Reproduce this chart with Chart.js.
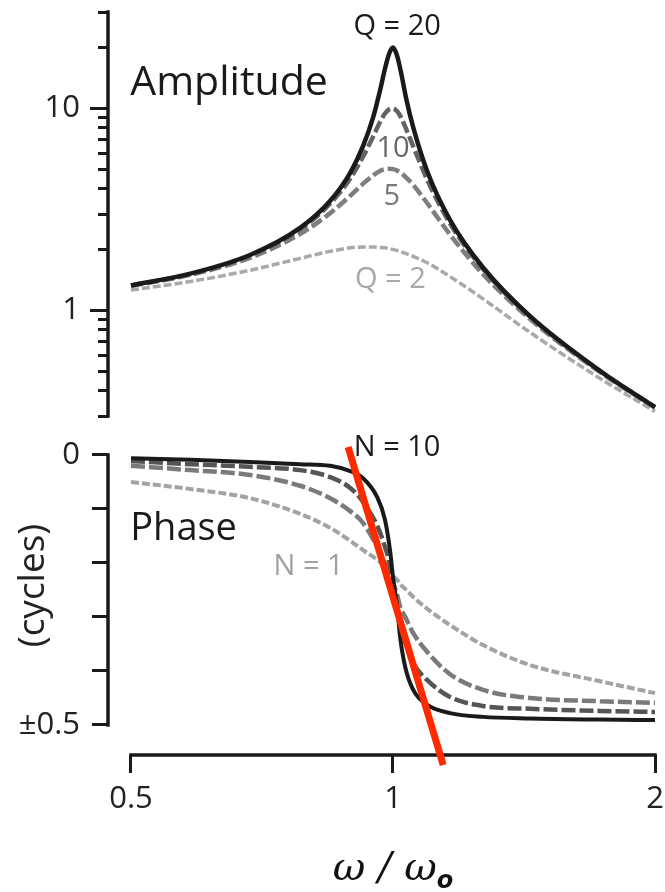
<!DOCTYPE html>
<html lang="en">
<head>
<meta charset="UTF-8">
<title>Amplitude and phase</title>
<script src="https://cdn.jsdelivr.net/npm/chart.js"></script>
<style>
  html, body { margin: 0; padding: 0; background: #fff; }
  #wrap { width: 665px; height: 892px; }
</style>
</head>
<body>
<div id="wrap"><canvas id="chart" width="665" height="892"></canvas></div>
<script>
// x = omega / omega_o
const ampX = [0.5, 0.585, 0.685, 0.782, 0.847, 0.893, 0.924, 0.949, 0.966, 0.979, 0.99, 1.0, 1.011, 1.022, 1.035, 1.055, 1.095, 1.163, 1.269, 1.437, 1.73, 2.0];
const ampQ20 = [1.33, 1.52, 1.88, 2.56, 3.49, 4.80, 6.52, 9.04, 12.2, 15.7, 18.7, 20.0, 18.2, 14.9, 11.3, 8.05, 4.87, 2.80, 1.63, 0.936, 0.501, 0.332];
const ampQ10 = [1.33, 1.51, 1.87, 2.52, 3.38, 4.50, 5.78, 7.26, 8.54, 9.43, 9.90, 10.0, 9.67, 8.99, 7.93, 6.49, 4.42, 2.69, 1.60, 0.930, 0.500, 0.332];
const ampQ5 = [1.32, 1.50, 1.82, 2.39, 3.03, 3.69, 4.24, 4.66, 4.90, 5.00, 5.03, 5.00, 4.92, 4.78, 4.56, 4.18, 3.39, 2.37, 1.51, 0.906, 0.494, 0.330];
const ampQ2 = [1.26, 1.39, 1.58, 1.81, 1.96, 2.04, 2.06, 2.06, 2.05, 2.04, 2.02, 2.00, 1.98, 1.95, 1.91, 1.85, 1.72, 1.47, 1.14, 0.778, 0.460, 0.316];

// phase in cycles
const phaseX = [0.5, 0.585, 0.685, 0.782, 0.847, 0.893, 0.924, 0.959, 0.979, 0.993, 1.0, 1.011, 1.019, 1.033, 1.055, 1.095, 1.163, 1.269, 1.437, 1.73, 2.0];
const phaseN10 = [-0.006, -0.009, -0.013, -0.017, -0.020, -0.030, -0.043, -0.078, -0.120, -0.181, -0.226, -0.281, -0.337, -0.393, -0.435, -0.463, -0.478, -0.485, -0.488, -0.490, -0.491];
const phaseDark = [-0.011, -0.017, -0.022, -0.028, -0.041, -0.061, -0.087, -0.131, -0.170, -0.207, -0.244, -0.278, -0.311, -0.346, -0.385, -0.417, -0.448, -0.465, -0.470, -0.474, -0.476];
const phaseMid = [-0.020, -0.028, -0.037, -0.057, -0.080, -0.104, -0.126, -0.170, -0.200, -0.226, -0.237, -0.259, -0.281, -0.300, -0.330, -0.365, -0.406, -0.435, -0.450, -0.456, -0.459];
const phaseN1 = [-0.050, -0.063, -0.080, -0.109, -0.135, -0.159, -0.176, -0.194, -0.207, -0.217, -0.224, -0.231, -0.239, -0.248, -0.263, -0.285, -0.315, -0.352, -0.389, -0.419, -0.441];

// red slope line
const slopeX = [0.888, 1.142];
const slopeY = [0.015, -0.574];

// ticks
const xTicks = [0.5, 1, 2];
const ampTicks = [0.3, 0.4, 0.5, 0.6, 0.7, 0.8, 0.9, 1, 2, 3, 4, 5, 6, 7, 8, 9, 10, 20, 30];
const ampLabels = {1: '1', 10: '10'};
const phaseTicks = [0, -0.1, -0.2, -0.3, -0.4, -0.5];
const phaseLabels = {'0': '0', '-0.5': '\u00b10.5'};

// text written on the plot
const notes = [
  {text: 'Amplitude', x: 0.499, y: 11.6, axis: 'yA', size: 41, color: '#1a1a1a', align: 'left'},
  {text: 'Q = 20', x: 1.011, y: 23.0, axis: 'yA', size: 29, color: '#1a1a1a', align: 'center'},
  {text: '10', x: 1.0, y: 5.72, axis: 'yA', size: 29, color: '#666666', align: 'center'},
  {text: '5', x: 0.997, y: 3.31, axis: 'yA', size: 29, color: '#7a7a7a', align: 'center'},
  {text: 'Q = 2', x: 0.993, y: 1.285, axis: 'yA', size: 29, color: '#a8a8a8', align: 'center'},
  {text: 'Phase', x: 0.499, y: -0.157, axis: 'yP', size: 38, color: '#1a1a1a', align: 'left'},
  {text: 'N = 10', x: 1.011, y: -0.002, axis: 'yP', size: 29, color: '#1a1a1a', align: 'center'},
  {text: 'N = 1', x: 0.800, y: -0.222, axis: 'yP', size: 29, color: '#a0a0a0', align: 'center'}
];

const FONT = "'Open Sans', 'DejaVu Sans', sans-serif";
Chart.defaults.font.family = FONT;
Chart.defaults.color = '#222';

const pts = (xs, ys) => xs.map((x, i) => ({x: x, y: ys[i]}));

function curve(data, axis, color, width, dash) {
  return {
    data: data,
    yAxisID: axis,
    borderColor: color,
    borderWidth: width,
    borderDash: dash,
    borderCapStyle: 'butt',
    pointRadius: 0,
    cubicInterpolationMode: 'monotone',
    clip: false
  };
}

// no label overhang padding, so the panels sit where the picture has them
function fixSize(prop, size) {
  return s => {
    s[prop] = size;
    s.paddingTop = 0; s.paddingBottom = 0; s.paddingLeft = 0; s.paddingRight = 0;
  };
}

const frame = {
  id: 'frame',
  beforeDatasetsDraw(chart) {
    const {ctx, chartArea} = chart;
    const {x, yA, yP} = chart.scales;
    const h = 1.75;
    ctx.save();
    ctx.strokeStyle = '#1a1a1a';
    ctx.lineWidth = 3.5;
    ctx.beginPath();
    ctx.moveTo(chartArea.left, yA.getPixelForValue(ampTicks[ampTicks.length - 1]) - h);
    ctx.lineTo(chartArea.left, yA.getPixelForValue(ampTicks[0]) + h);
    ctx.moveTo(chartArea.left, yP.getPixelForValue(phaseTicks[0]) - h);
    ctx.lineTo(chartArea.left, yP.getPixelForValue(phaseTicks[phaseTicks.length - 1]) + h);
    ctx.moveTo(x.getPixelForValue(xTicks[0]) - h, chartArea.bottom);
    ctx.lineTo(x.getPixelForValue(xTicks[xTicks.length - 1]) + h, chartArea.bottom);
    ctx.stroke();
    ctx.restore();
  },
  afterDraw(chart) {
    const {ctx} = chart;
    const x = chart.scales.x;
    ctx.save();
    ctx.textBaseline = 'alphabetic';
    notes.forEach(n => {
      ctx.font = n.size + 'px ' + FONT;
      ctx.fillStyle = n.color;
      ctx.textAlign = n.align;
      ctx.fillText(n.text, x.getPixelForValue(n.x), chart.scales[n.axis].getPixelForValue(n.y));
    });
    // x axis title: omega / omega_o
    const main = '\u03c9 / \u03c9';
    const mainFont = "italic 40px 'DejaVu Serif'";
    const subFont = "italic bold 24px 'DejaVu Sans'";
    ctx.font = mainFont;
    const w1 = ctx.measureText(main).width;
    ctx.font = subFont;
    const w2 = ctx.measureText('o').width;
    const cx = x.getPixelForValue(1);
    const left = cx - (w1 + w2) / 2;
    const base = chart.height - 12;
    ctx.textAlign = 'left';
    ctx.fillStyle = '#111';
    ctx.font = mainFont;
    ctx.fillText(main, left, base);
    ctx.font = subFont;
    ctx.fillText('o', left + w1, base + 8);
    ctx.restore();
  }
};

new Chart(document.getElementById('chart'), {
  type: 'line',
  data: {
    datasets: [
      curve(pts(slopeX, slopeY), 'yP', '#ff2a00', 7, []),
      curve(pts(ampX, ampQ20), 'yA', '#1a1a1a', 4.5, []),
      curve(pts(ampX, ampQ10), 'yA', '#636363', 4.5, [12, 4]),
      curve(pts(ampX, ampQ5), 'yA', '#7e7e7e', 4.5, [12, 4]),
      curve(pts(ampX, ampQ2), 'yA', '#a9a9a9', 3.5, [8, 3]),
      curve(pts(phaseX, phaseN10), 'yP', '#1a1a1a', 4, []),
      curve(pts(phaseX, phaseDark), 'yP', '#555555', 4.5, [14, 4]),
      curve(pts(phaseX, phaseMid), 'yP', '#7a7a7a', 4.5, [14, 4]),
      curve(pts(phaseX, phaseN1), 'yP', '#a3a3a3', 4, [8, 3])
    ]
  },
  options: {
    responsive: false,
    animation: false,
    devicePixelRatio: 1,
    layout: {padding: {top: 12, right: 10, bottom: 0, left: 0}},
    plugins: {legend: {display: false}, tooltip: {enabled: false}},
    scales: {
      x: {
        type: 'logarithmic',
        min: 0.4705,
        max: 2,
        afterBuildTicks: s => { s.ticks = xTicks.map(v => ({value: v})); },
        afterFit: fixSize('height', 137),
        border: {display: false},
        grid: {drawOnChartArea: false, tickLength: 18, tickWidth: 3, tickColor: '#1a1a1a'},
        ticks: {
          autoSkip: false, maxRotation: 0, padding: 8,
          font: {size: 31}, color: '#222',
          callback: v => String(v)
        }
      },
      yA: {
        type: 'logarithmic',
        position: 'left',
        stack: 'panels',
        stackWeight: 404,
        weight: 2,
        min: 0.3,
        max: 30,
        afterBuildTicks: s => { s.ticks = ampTicks.map(v => ({value: v})); },
        afterFit: fixSize('width', 108),
        border: {display: false},
        grid: {
          drawOnChartArea: false, tickLength: 18, tickWidth: 3, tickColor: '#1a1a1a',
          tickBorderDash: c => (ampLabels[c.tick.value] ? [] : [0, 8, 10, 100])
        },
        ticks: {
          autoSkip: false, padding: 10, font: {size: 31}, color: '#222',
          callback: v => ampLabels[v] || ''
        }
      },
      yP: {
        type: 'linear',
        position: 'left',
        stack: 'panels',
        stackWeight: 339,
        weight: 1,
        min: -0.5556,
        max: 0.0722,
        afterBuildTicks: s => { s.ticks = phaseTicks.map(v => ({value: v})); },
        afterFit: fixSize('width', 108),
        border: {display: false},
        grid: {drawOnChartArea: false, tickLength: 16, tickWidth: 3, tickColor: '#1a1a1a'},
        title: {display: true, text: '(cycles)', font: {size: 37}, color: '#222', padding: {top: 11, bottom: 0}},
        ticks: {
          autoSkip: false, padding: 12, font: {size: 31}, color: '#222',
          callback: v => phaseLabels[String(v)] || ''
        }
      }
    }
  },
  plugins: [frame]
});
</script>
</body>
</html>
